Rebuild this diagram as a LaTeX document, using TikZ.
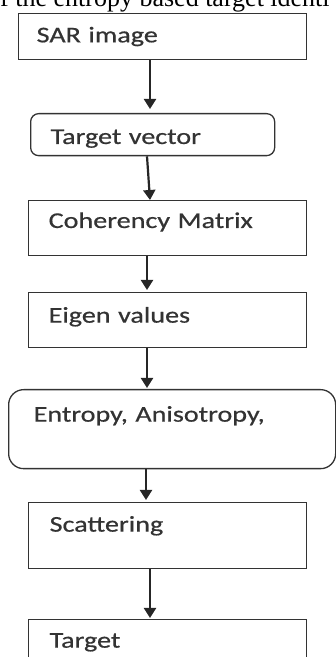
\documentclass[tikz,border=0pt]{standalone}
\usepackage{xcolor, fontspec}
\usepackage{tikz}
\usetikzlibrary{arrows.meta, calc}
\newfontfamily\boxfont{Carlito}[FakeStretch=1.25, FakeBold=0.6, WordSpace=0.7]
\newfontfamily\capfont{Liberation Serif}

\begin{document}
\begin{tikzpicture}
	[
	x=1pt, y=1pt,
	stage/.style={draw=black!80, line width=1.3pt, inner xsep=20pt, inner ysep=0pt,
		align=left, anchor=north west, text=black!80,
		font=\boxfont\fontsize{22.5}{27}\selectfont},
	flow/.style={draw=black!85, line width=2.2pt, -{Triangle[length=10pt,width=12pt]}}]
	\useasboundingbox (0,0) rectangle (336,657);
	\node[anchor=base west, inner sep=0pt, font=\capfont\fontsize{26}{30}\selectfont] (caption) at (0,650) {f the entropy based target identi};
	\node[stage, inner xsep=18pt, text width=252pt, text height=28.7pt, text depth=17.3pt] (sar) at (18,644) {SAR image};
	\node[stage, rounded corners=8pt, text width=204pt, text height=30.3pt, text depth=11.7pt] (tv) at (30,544) {Target vector};
	\node[stage, text width=238pt, text height=27.3pt, text depth=27.7pt] (coh) at (28,457) {Coherency Matrix};
	\node[stage, text width=238pt, text height=30pt, text depth=25pt] (eig) at (28,365) {Eigen values};
	\node[stage, rounded corners=15pt, inner xsep=25pt, text width=277pt, text height=32pt, text depth=47pt] (ent) at (8,268) {Entropy, Anisotropy,};
	\node[stage, inner xsep=21pt, text width=236pt, text height=29pt, text depth=37pt] (sca) at (28,155) {Scattering};
	\node[stage, inner xsep=21pt, text width=236pt, text height=28pt, text depth=27pt] (tar) at (28,38) {Target};
	% arrows between stages
	\draw[flow] ($(sar.south west)+(132,0)$) -- ($(tv.north west)+(120,4)$);
	\draw[flow] ($(tv.south west)+(117,0)$) -- ($(coh.north west)+(122,0)$);
	\draw[flow] ($(coh.south west)+(119,0)$) -- ($(eig.north west)+(119,2)$);
	\draw[flow] ($(eig.south west)+(119,0)$) -- ($(ent.north west)+(139,1)$);
	\draw[flow] ($(ent.south west)+(138,0)$) -- ($(sca.north west)+(118,2)$);
	\draw[flow] ($(sca.south west)+(122,0)$) -- ($(tar.north west)+(122,1)$);
\end{tikzpicture}
\end{document}
